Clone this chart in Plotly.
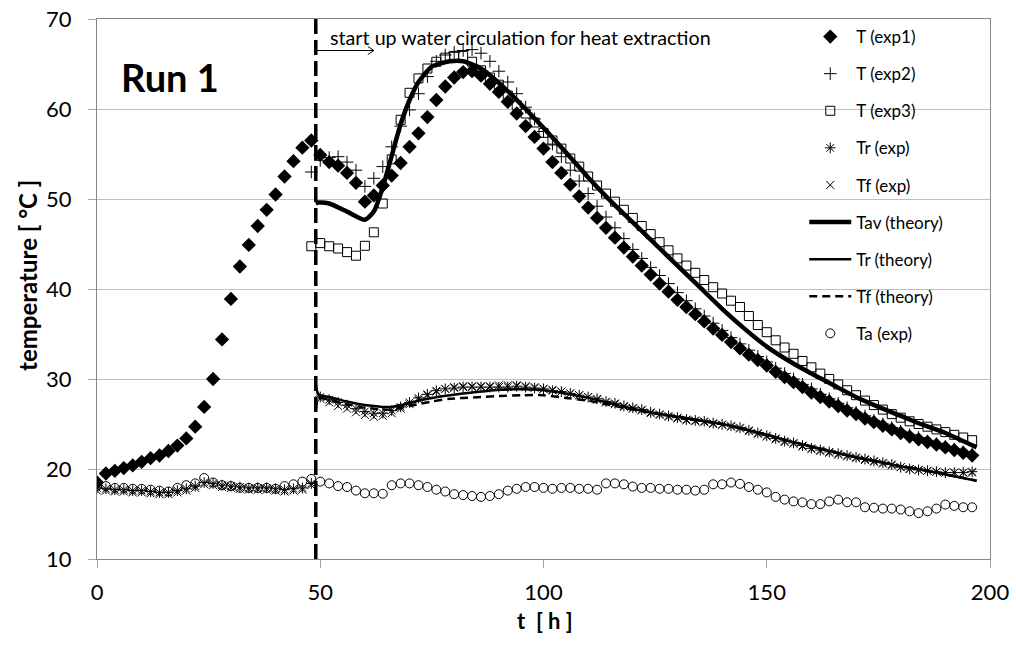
import plotly.graph_objects as go

# ---------------- data ----------------
t_pre = [0, 2, 4, 6, 8, 10, 12, 14, 16, 18, 20, 22, 24, 26, 28, 30, 32, 34, 36, 38, 40, 42, 44, 46, 48]
t_post = [50, 52, 54, 56, 58, 60, 62, 64, 66, 68, 70, 72, 74, 76, 78, 80, 82, 84, 86, 88, 90, 92, 94, 96, 98,
          100, 102, 104, 106, 108, 110, 112, 114, 116, 118, 120, 122, 124, 126, 128, 130, 132, 134, 136, 138,
          140, 142, 144, 146, 148, 150, 152, 154, 156, 158, 160, 162, 164, 166, 168, 170, 172, 174, 176, 178,
          180, 182, 184, 186, 188, 190, 192, 194, 196]
t_all = t_pre + t_post

T_exp1 = [18.5, 19.5, 19.8, 20.1, 20.4, 20.8, 21.2, 21.5, 22.0, 22.6, 23.4, 24.7, 26.9, 30.0, 34.4, 38.9, 42.5,
          44.9, 47.0, 48.8, 50.5, 52.5, 54.2, 55.7, 56.5,
          54.9, 54.1, 53.7, 52.9, 51.8, 49.7, 50.4, 51.5, 52.6, 54.0, 55.8, 57.3, 59.1, 61.0, 62.5, 63.5, 64.1,
          64.2, 63.7, 62.8, 61.9, 60.8, 59.5, 58.1, 56.9, 55.6, 54.1, 52.9, 51.6, 50.3, 49.05, 47.9, 46.8, 45.7,
          44.6, 43.6, 42.6, 41.6, 40.6, 39.7, 38.8, 38.0, 37.2, 36.4, 35.6, 34.9, 34.1, 33.4, 32.7, 32.1, 31.5,
          30.8, 30.2, 29.65, 29.1, 28.5, 28.0, 27.5, 27.0, 26.5, 26.1, 25.6, 25.2, 24.8, 24.4, 24.0, 23.6, 23.3,
          23.0, 22.7, 22.4, 22.1, 21.8, 21.5]

t_exp23 = [48] + t_post
T_exp2 = [53.0, 54.3, 54.6, 54.7, 54.1, 53.2, 51.4, 52.3, 53.6, 55.8, 58.1, 59.9, 61.7, 63.6, 65.3, 66.0, 66.3,
          66.5, 66.6, 66.2, 65.3, 64.2, 63.0, 61.7, 60.2, 58.9, 57.5, 56.1, 54.7, 53.2, 52.0, 50.6, 49.2, 48.0,
          46.8, 45.6, 44.4, 43.4, 42.4, 41.5, 40.6, 39.6, 38.7, 37.8, 37.0, 36.2, 35.4, 34.6, 33.9, 33.2, 32.5,
          31.9, 31.2, 30.6, 30.0, 29.4, 28.9, 28.3, 27.8, 27.3, 26.8, 26.3, 25.9, 25.4, 25.0, 24.6, 24.2, 23.8,
          23.5, 23.1, 22.8, 22.5, 22.2, 21.9, 21.6]
T_exp3 = [44.75, 45.1, 44.75, 44.5, 44.1, 43.7, 44.8, 46.3, 49.5, 54.4, 58.8, 61.8, 63.4, 64.5, 65.25, 65.7,
          65.9, 65.9, 65.25, 64.3, 63.5, 62.7, 61.5, 60.4, 59.5, 58.5, 57.35, 56.5, 55.6, 54.5, 53.6, 52.5, 51.5,
          50.6, 49.7, 48.8, 47.9, 47.0, 46.1, 45.2, 44.3, 43.4, 42.6, 41.8, 41.0, 40.2, 39.5, 38.7, 38.0, 37.0,
          36.0, 35.2, 34.3, 33.5, 32.8, 32.0, 31.3, 30.6, 30.0, 29.4, 28.75, 28.2, 27.6, 27.1, 26.6, 26.1, 25.7,
          25.3, 25.0, 24.7, 24.4, 24.1, 23.8, 23.5, 23.2]

Tr_exp = [17.9, 17.8, 17.7, 17.7, 17.6, 17.6, 17.5, 17.4, 17.4, 17.6, 17.8, 18.1, 18.5, 18.4, 18.2, 18.1, 18.0,
          17.9, 17.9, 17.9, 17.8, 17.7, 17.8, 17.9, 18.4,
          28.0, 27.7, 27.4, 27.1, 26.7, 26.4, 26.2, 26.2, 26.5, 26.9, 27.4, 27.9, 28.3, 28.7, 28.9, 29.0, 29.1,
          29.1, 29.1, 29.1, 29.1, 29.1, 29.2, 29.1, 29.0, 28.9, 28.7, 28.6, 28.4, 28.2, 28.0, 27.8, 27.5, 27.3,
          27.0, 26.8, 26.6, 26.3, 26.1, 25.9, 25.7, 25.5, 25.4, 25.3, 25.1, 24.95, 24.8, 24.6, 24.3, 24.0, 23.7,
          23.4, 23.1, 22.9, 22.6, 22.3, 22.1, 21.9, 21.7, 21.5, 21.3, 21.1, 20.9, 20.7, 20.5, 20.2, 20.0, 19.9,
          19.8, 19.7, 19.6, 19.6, 19.6, 19.7]
Tf_exp = [17.6, 17.6, 17.5, 17.5, 17.4, 17.4, 17.3, 17.2, 17.2, 17.4, 17.6, 17.9, 18.3, 18.2, 18.0, 17.9, 17.8,
          17.7, 17.7, 17.7, 17.6, 17.5, 17.6, 17.7, 18.2,
          27.8, 27.4, 27.0, 26.7, 26.3, 26.0, 25.8, 25.9, 26.2, 26.7, 27.2, 27.7, 28.2, 28.6, 28.9, 29.1, 29.2,
          29.2, 29.2, 29.2, 29.3, 29.3, 29.3, 29.2, 29.1, 28.9, 28.8, 28.6, 28.4, 28.2, 28.0, 27.7, 27.4, 27.2,
          26.9, 26.7, 26.5, 26.2, 26.0, 25.8, 25.6, 25.4, 25.3, 25.2, 25.0, 24.9, 24.7, 24.5, 24.2, 23.9, 23.6,
          23.3, 23.0, 22.8, 22.5, 22.2, 22.0, 21.8, 21.6, 21.4, 21.2, 21.0, 20.8, 20.6, 20.4, 20.2, 20.0, 19.9,
          19.8, 19.7, 19.6, 19.6, 19.6, 19.6]

Ta_exp = [18.1, 18.1, 17.9, 17.9, 17.8, 17.8, 17.7, 17.6, 17.5, 17.9, 18.2, 18.4, 19.0, 18.5, 18.2, 18.1, 17.9,
          17.9, 17.9, 17.9, 17.8, 18.1, 18.3, 18.6, 18.9,
          18.6, 18.4, 18.1, 18.0, 17.6, 17.3, 17.3, 17.25, 18.2, 18.4, 18.4, 18.2, 18.0, 17.7, 17.5, 17.2, 17.1,
          17.0, 16.9, 17.0, 17.2, 17.6, 17.8, 18.0, 18.0, 17.9, 17.8, 17.9, 17.9, 17.8, 17.8, 17.7, 18.4, 18.4,
          18.3, 18.05, 17.9, 17.9, 17.8, 17.8, 17.7, 17.7, 17.6, 17.7, 18.3, 18.3, 18.5, 18.35, 18.0, 17.7, 17.4,
          16.9, 16.6, 16.4, 16.3, 16.1, 16.1, 16.4, 16.6, 16.3, 16.3, 15.75, 15.7, 15.6, 15.6, 15.5, 15.3, 15.1,
          15.3, 15.6, 16.05, 15.9, 15.75, 15.75]

t_theory = [49, 49.6, 52, 56, 60, 62, 64, 66, 68, 70, 72, 75, 79, 82, 86, 90, 95, 100, 105, 110, 115, 120, 125,
            130, 135, 140, 145, 150, 155, 160, 165, 170, 175, 180, 185, 190, 197]
Tav_theory = [49.5, 49.6, 49.5, 48.6, 47.7, 48.6, 51.3, 54.8, 58.3, 61.0, 63.0, 64.7, 65.3, 65.3, 64.5, 62.9,
              60.5, 57.9, 55.2, 52.4, 49.8, 47.4, 45.0, 42.6, 40.2, 37.8, 35.6, 33.6, 32.0, 30.6, 29.3, 28.0,
              26.9, 25.9, 24.9, 24.0, 22.4]
Tr_theory = [29.4, 28.3, 28.0, 27.5, 27.1, 27.0, 26.9, 26.9, 27.1, 27.3, 27.6, 27.9, 28.2, 28.4, 28.6, 28.8,
             28.85, 28.75, 28.4, 27.9, 27.3, 26.7, 26.2, 25.8, 25.4, 25.0, 24.4, 23.8, 23.1, 22.5, 21.9, 21.3,
             20.8, 20.3, 19.9, 19.4, 18.7]
Tf_theory = [26.6, 27.9, 27.7, 27.2, 26.8, 26.7, 26.6, 26.6, 26.8, 27.0, 27.2, 27.5, 27.8, 27.9, 28.0, 28.1,
             28.2, 28.2, 27.9, 27.6, 27.1, 26.6, 26.2, 25.8, 25.4, 25.0, 24.4, 23.8, 23.1, 22.5, 21.9, 21.3,
             20.8, 20.3, 19.9, 19.4, 18.7]

start_time = 49  # start of water circulation
x_ticks = [0, 50, 100, 150, 200]
y_ticks = [10, 20, 30, 40, 50, 60, 70]

FONT = "Lato"
fig = go.Figure()


def mk(x, y, name, symbol, size, filled=False, lw=1):
    if filled:
        m = dict(symbol=symbol, size=size, color="black", line=dict(color="black", width=0))
    else:
        m = dict(symbol=symbol, size=size, color="black", line=dict(color="black", width=lw))
    return go.Scatter(x=x, y=y, name=name, mode="markers", marker=m, legendgroup=name)


fig.add_trace(mk(t_all, T_exp1, "T (exp1)", "diamond", 11, filled=True))
fig.add_trace(mk(t_exp23, T_exp2, "T (exp2)", "cross-thin-open", 9))
fig.add_trace(mk(t_exp23, T_exp3, "T (exp3)", "square-open", 9))
fig.add_trace(mk(t_all, Tr_exp, "Tr (exp)", "asterisk-open", 9))
fig.add_trace(mk(t_all, Tf_exp, "Tf (exp)", "x-thin-open", 8))
fig.add_trace(go.Scatter(x=t_theory, y=Tav_theory, name="Tav (theory)", mode="lines", legendgroup="Tav",
                         line=dict(color="black", width=4.5, shape="spline", smoothing=0.6)))
fig.add_trace(go.Scatter(x=t_theory, y=Tr_theory, name="Tr (theory)", mode="lines", legendgroup="Trt",
                         line=dict(color="black", width=2.5, shape="spline", smoothing=0.6)))
fig.add_trace(go.Scatter(x=t_theory, y=Tf_theory, name="Tf (theory)", mode="lines", legendgroup="Tft",
                         line=dict(color="black", width=2.5, dash="8px,5px", shape="spline", smoothing=0.6)))
fig.add_trace(mk(t_all, Ta_exp, "Ta (exp)", "circle-open", 9))

# vertical dashed line at start of circulation
fig.add_shape(type="line", x0=start_time, x1=start_time, y0=10, y1=70, xref="x", yref="y",
              line=dict(color="black", width=3.5, dash="15px,6px"))
# arrow
arrow_y = 66.5
arrow_end = 62
fig.add_shape(type="line", x0=start_time, x1=arrow_end, y0=arrow_y, y1=arrow_y, xref="x", yref="y",
              line=dict(color="black", width=1))
fig.add_shape(type="path", xref="x", yref="y", xsizemode="pixel", ysizemode="pixel",
              xanchor=arrow_end, yanchor=arrow_y, path="M-6,-4 L0,0 L-6,4",
              line=dict(color="black", width=1))

fig.add_annotation(x=51.7, y=68.0, xref="x", yref="y", xanchor="left", yanchor="middle", showarrow=False,
                   text="start up water circulation for heat extraction",
                   font=dict(family=FONT, size=19.7, color="black"))
fig.add_annotation(x=5.0, y=63.6, xref="x", yref="y", xanchor="left", yanchor="middle", showarrow=False,
                   text="<b>Run 1</b>", font=dict(family=FONT, size=38, color="black"))
# axis titles
fig.add_annotation(x=0.5017, y=-0.113, xref="paper", yref="paper", xanchor="center", yanchor="middle",
                   showarrow=False, text="<b>t  [ h ]</b>", font=dict(family=FONT, size=22, color="black"))
fig.add_annotation(x=-0.0773, y=0.526, xref="paper", yref="paper", xanchor="center", yanchor="middle",
                   showarrow=False, textangle=-90, text="<b>temperature [ °C ]</b>",
                   font=dict(family=FONT, size=24, color="black"))

fig.update_layout(
    width=1016, height=645,
    margin=dict(l=97, r=26, t=19, b=86, autoexpand=False),
    paper_bgcolor="white", plot_bgcolor="white",
    font=dict(family=FONT, color="black"),
    showlegend=True,
    legend=dict(x=0.792, y=1.0, xanchor="left", yanchor="top", bgcolor="rgba(0,0,0,0)",
                font=dict(family=FONT, size=17, color="black"), tracegroupgap=12, itemwidth=42,
                traceorder="grouped"),
    xaxis=dict(range=[0, 200], tickvals=x_ticks, showgrid=False, zeroline=False, automargin=False,
               showline=True, linecolor="#868686", linewidth=1, mirror=True,
               ticks="outside", ticklen=8, tickcolor="#A6A6A6", ticklabelstandoff=6,
               ticklabeloverflow="allow",
               tickfont=dict(family=FONT, size=22, color="black")),
    yaxis=dict(range=[10, 70], tickvals=y_ticks, showgrid=True, gridcolor="#BFBFBF", gridwidth=1,
               zeroline=False, showline=True, linecolor="#868686", linewidth=1, mirror=True, automargin=False,
               ticks="outside", ticklen=8, tickcolor="#A6A6A6", ticklabelstandoff=12,
               ticklabeloverflow="allow",
               tickfont=dict(family=FONT, size=22, color="black")),
)

fig.write_html("out.html", config={"displayModeBar": False},
               post_script="document.body.style.margin='0';")
